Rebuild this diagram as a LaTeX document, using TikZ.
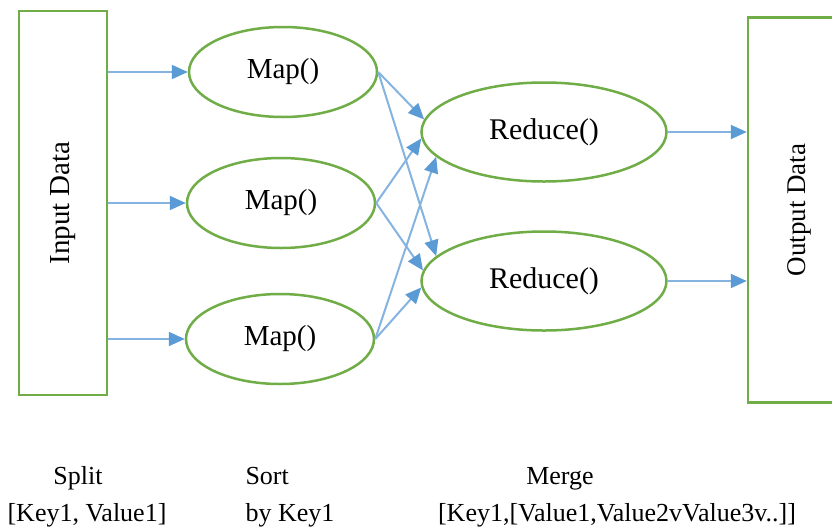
\documentclass[tikz,border=0pt]{standalone}
\usepackage{fontspec}
\setmainfont{Liberation Serif}
\usetikzlibrary{arrows.meta,shapes.geometric}
\definecolor{boxgreen}{HTML}{70AD47}
\definecolor{flowblue}{HTML}{5B9BD5}
\tikzset{
  databox/.style={draw=boxgreen, line width=2.5pt, rectangle, inner sep=0pt},
  mapnode/.style={draw=boxgreen, line width=2.5pt, ellipse, inner sep=0pt,
    minimum width=188pt, minimum height=90pt, font=\fontsize{29}{30}\selectfont},
  rednode/.style={draw=boxgreen, line width=2.5pt, ellipse, inner sep=0pt,
    minimum width=245pt, minimum height=99pt, font=\fontsize{30}{30}\selectfont},
  flow/.style={draw=flowblue!75, line width=2pt,
    -{Triangle[length=16pt,width=14pt,color=flowblue]}},
  caption/.style={anchor=base, font=\fontsize{26}{30}\selectfont}
}
\begin{document}
\begin{tikzpicture}[x=1pt, y=-1pt]
    \useasboundingbox (0,0) rectangle (832,528);
    \clip (0,0) rectangle (832,528);
    \fill [white] (0,0) rectangle (832,528);

    % data boxes
    \node[databox, minimum width=88pt, minimum height=384pt] (in) at (63,203) {};
    \node[rotate=90, font=\fontsize{29}{30}\selectfont] (intext) at (in) {Input Data};
    \node[databox, minimum width=102pt, minimum height=385pt] (out) at (799,210) {};
    \node[rotate=90, font=\fontsize{27}{30}\selectfont] (outtext) at (out) {Output Data};

    % map and reduce
    \node[mapnode] (m1) at (283,72) {Map()};
    \node[mapnode] (m2) at (281,203) {Map()};
    \node[mapnode] (m3) at (280,339) {Map()};
    \node[rednode] (r1) at (544,132) {Reduce()};
    \node[rednode] (r2) at (544,281) {Reduce()};

    \foreach \m in {m1,m2,m3}
      \draw[flow] (in.east |- \m.west) -- (\m.west);

    \draw[flow] (m1.east) -- (r1.174);
    \draw[flow] (m2.east) -- (r1.183);
    \draw[flow] (m3.east) -- (r1.193);
    \draw[flow] (m1.east) -- (r2.167);
    \draw[flow] (m2.east) -- (r2.175);
    \draw[flow] (m3.east) -- (r2.183);

    \draw[flow] (r1.east) -- (r1.east -| out.west);
    \draw[flow] (r2.east) -- (r2.east -| out.west);

    % captions
    \node[caption] (split) at (78,484) {Split};
    \node[caption] (splitkey) at (87,521) {[Key1, Value1]};
    \node[caption, anchor=base west] (sort) at (242,484) {Sort};
    \node[caption, anchor=base west] (sortkey) at (242,521) {by Key1};
    \node[caption] (merge) at (560,484) {Merge};
    \node[caption] (mergekey) at (617,521) {[Key1,[Value1,Value2vValue3v..]]};
\end{tikzpicture}
\end{document}
